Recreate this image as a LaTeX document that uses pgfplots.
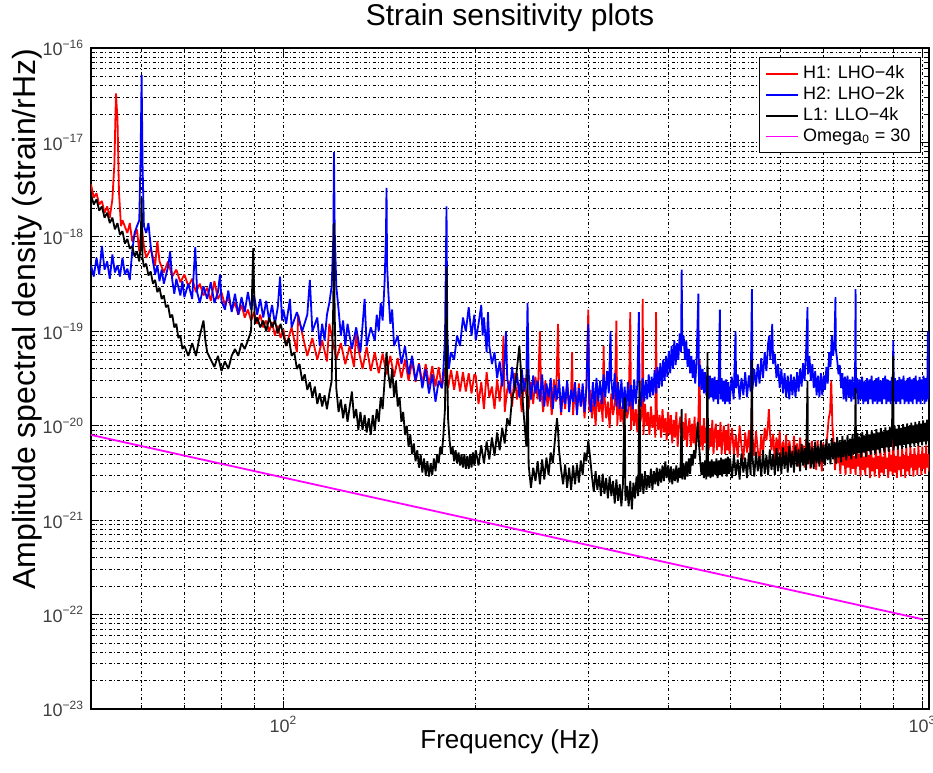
\documentclass[border=0pt]{standalone}
\usepackage{fontspec}
\setmainfont{Liberation Sans}
\usepackage{pgfplots}
\pgfplotsset{compat=1.18}

\begin{document}
\begin{tikzpicture}
\begin{axis}[
  name=main,
  scale only axis,
  width=419pt, height=330.5pt,
  xmode=log, ymode=log,
  xmin=50, xmax=1024, ymin=1e-23, ymax=1e-16,
  xtick={100,1000},
  xticklabels={10\textsuperscript{2},10\textsuperscript{3}},
  minor xtick={60,70,80,90,200,300,400,500,600,700,800,900},
  ytick={1e-23,1e-22,1e-21,1e-20,1e-19,1e-18,1e-17,1e-16},
  yticklabels={10\textsuperscript{−23},10\textsuperscript{−22},10\textsuperscript{−21},10\textsuperscript{−20},10\textsuperscript{−19},10\textsuperscript{−18},10\textsuperscript{−17},10\textsuperscript{−16}},
  minor ytick={2e-23,3e-23,4e-23,5e-23,6e-23,7e-23,8e-23,9e-23,
               2e-22,3e-22,4e-22,5e-22,6e-22,7e-22,8e-22,9e-22,
               2e-21,3e-21,4e-21,5e-21,6e-21,7e-21,8e-21,9e-21,
               2e-20,3e-20,4e-20,5e-20,6e-20,7e-20,8e-20,9e-20,
               2e-19,3e-19,4e-19,5e-19,6e-19,7e-19,8e-19,9e-19,
               2e-18,3e-18,4e-18,5e-18,6e-18,7e-18,8e-18,9e-18,
               2e-17,3e-17,4e-17,5e-17,6e-17,7e-17,8e-17,9e-17},
  grid=both,
  major grid style={black, line width=0.5pt, dash pattern=on 1.5pt off 1.2pt on 0.5pt off 1.2pt},
  minor grid style={black, line width=0.5pt, dash pattern=on 1.5pt off 1.2pt on 0.5pt off 1.2pt},
  tick align=inside,
  major tick length=4pt, minor tick length=2pt,
  tick style={black, line width=0.5pt},
  axis line style={black, line width=0.8pt},
  ticklabel style={font=\fontsize{9}{10}\selectfont, text=black!75},
  every axis title/.style={at={(axis description cs:0.5,1.0454)}, anchor=center,
    font=\fontsize{15}{18}\selectfont},
  every axis x label/.style={at={(axis description cs:0.5,-0.0499)}, anchor=center,
    font=\fontsize{13}{15}\selectfont},
  every axis y label/.style={at={(axis description cs:-0.0764,0.59)}, anchor=center, rotate=90,
    font=\fontsize{16}{18}\selectfont},
  title={Strain sensitivity plots},
  xlabel={Frequency (Hz)},
  ylabel={Amplitude spectral density (strain/rHz)},
  legend style={at={(axis description cs:0.9905,0.9864)}, anchor=north east,
    draw=black, line width=0.6pt, fill=white,
    font=\fontsize{9}{11}\selectfont, inner xsep=3pt, inner ysep=2pt,
    row sep=-1.5pt},
  legend cell align=left,
  legend image code/.code={\draw[#1] (0pt,0pt) -- (16pt,0pt);},
  every axis plot/.append style={line width=0.9pt, no markers, line join=bevel},
]

% H1: LHO-4k
\addplot[color={rgb,255:red,255;green,0;blue,0}] coordinates {
(50,3.6e-18) (50.5,2.6e-18) (51,2.9e-18) (51.5,2.2e-18) (52,2.4e-18) (52.5,1.8e-18) (53,2.1e-18) (53.5,1.6e-18)
(54,2.5e-18) (54.4,6e-18) (54.7,3.3e-17) (55,1.8e-17) (55.3,3e-18) (55.7,1.3e-18) (56,1.5e-18) (57,1.1e-18)
(57.5,1.4e-18) (58,9e-19) (59,1.2e-18) (59.5,7e-19) (60,1.3e-18) (60.5,8e-19) (61,6e-19) (62,7.5e-19)
(63,5e-19) (63.5,9e-19) (64,5.5e-19) (65,4.2e-19) (66,5.5e-19) (67,3.8e-19) (68,4.5e-19) (69,3.3e-19)
(70,4e-19) (71,3e-19) (72,3.6e-19) (73,2.6e-19) (74,3.2e-19) (75,2.4e-19) (76,2.9e-19) (77,2.1e-19)
(78,3.4e-19) (79,2.2e-19) (80,2.6e-19) (81,1.9e-19) (82,2.3e-19) (83,1.7e-19) (84,2e-19) (85,1.5e-19)
(86,1.9e-19) (87,1.4e-19) (88,1.7e-19) (89,1.3e-19) (90,1.6e-19) (91,1.2e-19) (92,1.5e-19) (93,1.1e-19)
(94,1.3e-19) (95,1e-19) (96,1.25e-19) (97,9e-20) (98,1.15e-19) (99,8.5e-20) (100,1.05e-19)
(101,7e-20) (103,1.1e-19) (105,6e-20) (105.5,1.5e-19) (107,9.5e-20) (109,5.5e-20) (111,8.5e-20) (113,5e-20)
(115,8e-20) (117,4.8e-20) (118,1.2e-19) (119,9e-20) (121,5e-20) (123,7.5e-20) (125,4.5e-20) (127,7e-20)
(129,4.2e-20) (130,1e-19) (131,6.5e-20) (133,4e-20) (135,6.8e-20) (137,3.8e-20) (139,6e-20) (141,3.6e-20)
(143,5.8e-20) (145,3.5e-20) (147,5.5e-20) (149,3.3e-20) (151,5.2e-20) (153,3.2e-20) (155,5e-20) (157,3e-20)
(159,4.8e-20) (161,2.9e-20) (163,4.6e-20) (165,2.8e-20) (167,4.5e-20) (169,2.7e-20) (171,4.3e-20) (173,2.6e-20)
(175,4.2e-20) (177,2.5e-20) (179,4e-20) (181,2.5e-20) (183,3.9e-20) (185,2.4e-20) (187,3.8e-20) (189,2.3e-20)
(191,3.7e-20) (193,2.3e-20) (195,3.6e-20) (197,2.2e-20) (199,3.5e-20)
(200,3.4e-20) (202,1.7e-20) (204,2.9e-20) (206,1.5e-20) (208,3.7e-20) (210,2.0e-20) (212,2.6e-20) (214,1.5e-20)
(216,3.1e-20) (218,1.8e-20) (220,3.5e-20) (221,9e-20) (222,1.4e-20) (224,2.4e-20) (226,3.0e-20) (228,1.6e-20)
(230,3.6e-20) (232,1.9e-20) (234,2.8e-20) (236,1.4e-20) (238,3.2e-20) (240,2.1e-20) (242,1.5e-20) (244,2.9e-20)
(246,1.7e-20) (248,3.3e-20) (250,1.9e-20) (252,10e-20) (253,2.6e-20) (255,1.4e-20) (257,3.0e-20) (259,1.6e-20)
(261,2.5e-20) (263,1.3e-20) (265,3.1e-20) (267,1.8e-20) (269,12e-20) (270,2.7e-20) (272,1.3e-20) (274,2.4e-20)
(276,1.5e-20) (278,2.9e-20) (280,1.7e-20) (282,2.2e-20) (283,6e-20) (284,1.3e-20) (286,2.6e-20) (288,1.4e-20)
(290,2.8e-20) (292,1.6e-20) (294,2.3e-20) (296,1.2e-20) (298,2.5e-20) (300,17e-20) (301,1.4e-20)
(302,2.4e-20) (304,1.2e-20) (306,2.0e-20) (308,1.0e-20) (310,2.3e-20) (312,1.4e-20) (314,1.9e-20) (316,1.1e-20)
(317,7e-20) (318,2.1e-20) (320,1.2e-20) (322,1.8e-20) (324,0.95e-20) (326,2.2e-20) (328,1.3e-20) (330,1.7e-20)
(332,13e-20) (333,1.0e-20) (335,2.0e-20) (337,1.1e-20) (339,1.6e-20) (341,0.9e-20) (343,1.9e-20) (345,1.2e-20)
(347,1.5e-20) (349,16e-20) (350,0.9e-20) (352,1.8e-20) (354,1.0e-20) (356,1.5e-20) (358,0.85e-20) (360,1.9e-20)
(362,1.1e-20) (364,1.4e-20) (365,22e-20) (366,0.8e-20) (368,1.7e-20) (370,1.0e-20) (372,1.4e-20) (374,0.8e-20)
(376,1.6e-20) (378,0.95e-20) (380,1.3e-20) (382,0.75e-20) (383,16e-20) (384,1.5e-20) (386,0.9e-20) (388,1.3e-20)
(390,0.75e-20) (392,1.5e-20) (394,0.85e-20) (396,1.2e-20) (398,0.7e-20) (400,1.4e-20)
(402,0.8e-20) (404,1.3e-20) (406,0.65e-20) (408,1.15e-20) (410,0.75e-20) (412,1.4e-20) (414,0.6e-20) (416,1.0e-20)
(418,1.25e-20) (420,0.65e-20) (422,1.1e-20) (424,0.7e-20) (426,1.35e-20) (428,0.6e-20) (430,0.95e-20) (432,1.2e-20)
(434,0.6e-20) (436,1.05e-20) (438,0.65e-20) (440,1.25e-20) (442,0.55e-20) (444,0.9e-20) (446,1.15e-20) (448,5e-20)
(449,0.6e-20) (451,1.0e-20) (453,0.55e-20) (455,1.2e-20) (457,0.65e-20) (459,0.9e-20) (461,1.1e-20) (463,0.55e-20)
(465,0.95e-20) (467,0.6e-20) (469,1.15e-20) (471,0.5e-20) (473,0.85e-20) (475,1.05e-20) (477,0.55e-20) (479,0.9e-20)
(481,0.6e-20) (483,1.1e-20) (485,0.5e-20) (487,0.8e-20) (489,1.0e-20) (491,0.5e-20) (493,0.9e-20) (495,0.55e-20)
(497,1.05e-20) (499,0.5e-20)
(503.5,9.5e-21) (507,5.0e-21) (510.5,8.0e-21) (514,4.6e-21) (517.5,10e-21) (521,6.0e-21) (524.5,4.4e-21) (528,8.5e-21)
(531.5,5.2e-21) (535,9.0e-21) (538.5,4.3e-21) (541,20e-21) (542,7.5e-21) (545.5,4.8e-21) (549,8.8e-21) (552.5,5.5e-21)
(556,4.2e-21) (559.5,8.0e-21) (563,5.0e-21) (566.5,9.5e-21) (570,7e-21) (573.5,11e-21) (575,15e-21) (577,9e-21)
(580.5,5.5e-21) (584,8.2e-21) (587.5,4.1e-21) (591,7.5e-21) (594.5,5.0e-21) (598,8.8e-21) (601.5,4.0e-21) (605,6.8e-21)
(608.5,4.5e-21) (612,8.0e-21) (615.5,3.8e-21) (619,7.0e-21) (622.5,5.2e-21) (626,3.9e-21) (629.5,7.8e-21) (633,4.4e-21)
(636.5,6.5e-21) (640,3.7e-21) (643.5,7.5e-21) (647,4.8e-21) (650.5,6.2e-21) (654,3.6e-21) (657.5,7.2e-21) (661,4.0e-21)
(664.5,6.0e-21) (668,3.5e-21) (671.5,6.9e-21) (675,4.6e-21) (678.5,5.8e-21) (682,3.4e-21) (685.5,7.0e-21) (689,4.0e-21)
(692.5,5.5e-21) (696,3.3e-21) (699.5,6.6e-21) (703,4.3e-21) (706.5,5.4e-21) (710,8e-21) (713.5,12e-21) (717,14e-21)
(720,30e-21) (723,10e-21) (726.5,6.5e-21) (730,3.4e-21) (733.5,6.0e-21) (737,4.0e-21) (740.5,5.2e-21) (744,3.1e-21)
(747.5,6.2e-21) (751,3.8e-21) (754.5,5.0e-21) (758,3.0e-21) (761.5,6.0e-21) (765,3.6e-21) (768.5,5.3e-21) (772,3.1e-21)
(775.5,5.8e-21) (779,3.5e-21) (782.5,4.8e-21) (786,3.0e-21) (789.5,6.1e-21) (793,3.7e-21) (796.5,5.0e-21) (800,2.9e-21)
(803.5,5.6e-21) (807,3.4e-21) (810.5,4.7e-21) (814,3.0e-21) (817.5,6.0e-21) (821,3.6e-21) (824.5,4.9e-21) (828,2.8e-21)
(831.5,5.5e-21) (835,3.3e-21) (838.5,4.6e-21) (842,2.9e-21) (845.5,5.9e-21) (849,3.5e-21) (852.5,4.8e-21) (856,2.8e-21)
(859.5,5.6e-21) (863,3.2e-21) (866.5,4.7e-21) (870,3.0e-21) (873.5,6.0e-21) (877,3.5e-21) (880.5,4.6e-21) (884,2.8e-21)
(887.5,5.7e-21) (891,3.3e-21) (894.5,4.9e-21) (898,3.0e-21) (900,10e-21) (901.5,5.5e-21) (905,3.2e-21) (908.5,4.8e-21)
(912,2.8e-21) (915.5,5.8e-21) (919,3.4e-21) (922.5,4.7e-21) (926,2.9e-21) (929.5,6.0e-21) (933,3.5e-21) (936.5,4.9e-21)
(940,2.8e-21) (943.5,5.9e-21) (947,3.3e-21) (950.5,4.8e-21) (954,3.0e-21) (957.5,6.1e-21) (961,3.6e-21) (964.5,5.0e-21)
(968,2.9e-21) (971.5,5.8e-21) (975,3.4e-21) (978.5,4.9e-21) (982,3.0e-21) (985.5,6.2e-21) (989,3.6e-21) (992.5,5.0e-21)
(996,3.0e-21) (999.5,6.0e-21) (1003,3.5e-21) (1006.5,5.1e-21) (1010,3.1e-21) (1013.5,6.2e-21) (1017,3.6e-21) (1020.5,5.0e-21)
(1024,3.3e-21)
};
\addlegendentry{H1: LHO−4k}

% H2: LHO-2k
\addplot[color={rgb,255:red,0;green,0;blue,255}] coordinates {
(50,5e-19) (50.5,3.8e-19) (51,6e-19) (51.5,4e-19) (52,8e-19) (52.5,4.5e-19) (53,5.5e-19) (53.5,3.6e-19)
(54,6.5e-19) (54.5,4.2e-19) (55,5e-19) (55.5,3.8e-19) (56,6e-19) (56.5,4e-19) (57,4.6e-19) (57.5,3.5e-19)
(58,7e-19) (58.5,1.1e-18) (59,1.3e-18) (59.5,1.5e-18) (59.8,8e-18) (60,5.2e-17) (60.2,6e-18) (60.5,1.3e-18)
(61,1.1e-18) (61.5,1.4e-18) (62,8e-19) (62.5,5.5e-19) (63,4e-19) (63.5,5e-19) (64,3.4e-19) (64.5,4.5e-19)
(65,3.2e-19) (66,4.8e-19) (66.5,7e-19) (67,3.5e-19) (67.5,2.5e-19) (68,3.6e-19) (69,2.4e-19) (69.5,3.4e-19)
(70,2.3e-19) (71,3.2e-19) (72,2.2e-19) (72.8,7.8e-19) (73.3,2.6e-19) (74,2e-19) (75,3e-19) (76,2.2e-19)
(77,3.3e-19) (78,2e-19) (79,2.6e-19) (79.6,4e-19) (80,2.1e-19) (81,1.7e-19) (82,2.7e-19) (83,1.6e-19)
(84,2.5e-19) (85,1.5e-19) (86,2.3e-19) (87,1.6e-19) (88,2.6e-19) (89,1.7e-19) (90,2.4e-19) (91,1.5e-19)
(92,2.2e-19) (93,1.4e-19) (94,2.1e-19) (95,1.3e-19) (96,1.9e-19) (97,1.2e-19) (98,1.8e-19) (98.8,3.8e-19)
(99.5,1.3e-19) (100,1.7e-19)
(101,1.2e-19) (102.4,2.2e-19) (103,1.1e-19) (105,1.6e-19) (107,1e-19) (109,1.5e-19) (110,3.5e-19) (111,1e-19)
(113,1.4e-19) (114,7e-20) (115,1.2e-19) (116,8e-20) (117,1.5e-19) (118,2e-19) (119,3e-19) (119.7,1e-18)
(120,7.9e-18) (120.3,1.2e-18) (121,3e-19) (122,1.7e-19) (123,9e-20) (124,1.3e-19) (125,7e-20) (126,1.2e-19)
(128,6.5e-20) (130,1.1e-19) (132,6e-20) (134,2.2e-19) (135,7e-20) (137,1.1e-19) (139,8e-20) (140,1.5e-19)
(141,1e-19) (142,2e-19) (143,1.3e-19) (144,3.3e-19) (144.7,1e-18) (145,3.3e-18) (145.3,5e-19) (146,2.5e-19)
(147,1.2e-19) (148,1.7e-19) (149,7e-20) (151,9e-20) (153,4.5e-20) (155,7e-20) (157,3.5e-20) (159,5.5e-20)
(161,3e-20) (163,4.5e-20) (165,2.5e-20) (167,4e-20) (169,2.2e-20) (171,3.5e-20) (173,1.8e-20) (175,3e-20)
(177,2.5e-20) (178,4e-20) (179,8e-20) (180,2.1e-18) (180.5,1e-19) (181.5,4e-20) (183,6e-20) (185,5e-20)
(187,9e-20) (189,7e-20) (191,1.4e-19) (193,1e-19) (195,1.8e-19) (197,9e-20) (199,1.5e-19)
(200,8e-20) (202,12e-20) (204,19e-20) (205,9e-20) (206,14e-20) (208,6e-20) (209,16e-20) (210,7e-20)
(212,4.5e-20) (214,6e-20) (216,3.2e-20) (218,4.8e-20) (220,2.6e-20) (222,5e-20) (223,10e-20) (224,3.2e-20)
(226,2.2e-20) (228,4.2e-20) (230,2.4e-20) (232,3.6e-20) (234,2.0e-20) (236,4.0e-20) (238,2.3e-20) (240,3.3e-20)
(241,20e-20) (242,3.6e-20) (244,1.9e-20) (246,3.4e-20) (248,2.2e-20) (250,3.0e-20) (252,1.8e-20) (254,3.5e-20)
(256,1.6e-20) (258,2.8e-20) (260,2.0e-20) (262,3.2e-20) (264,1.5e-20) (266,2.7e-20) (268,1.9e-20) (270,3.1e-20)
(272,1.4e-20) (274,2.6e-20) (276,1.7e-20) (278,3.0e-20) (280,1.4e-20) (282,2.4e-20) (284,1.8e-20) (286,2.9e-20)
(288,1.3e-20) (290,2.5e-20) (292,1.6e-20) (294,2.8e-20) (296,1.4e-20) (298,2.6e-20) (300,12e-20) (301,2.0e-20)
(303,1.4e-20) (305,2.9e-20) (307,1.6e-20) (309,3.2e-20) (311,1.8e-20) (313,3.0e-20) (315,1.7e-20) (317,3.5e-20)
(319,2.0e-20) (321,3.8e-20) (323,2.2e-20) (325,10e-20) (326,3.0e-20) (328,1.9e-20) (330,3.6e-20) (332,1.6e-20)
(334,2.9e-20) (336,1.5e-20) (338,3.1e-20) (340,1.5e-20) (342,2.6e-20) (344,1.4e-20) (346,2.9e-20) (348,1.6e-20)
(350,2.7e-20) (352,1.5e-20) (354,3.1e-20) (356,1.7e-20) (358,2.8e-20) (360,16e-20) (361,2.0e-20) (363,1.6e-20)
(365,3.2e-20) (367,1.8e-20) (369,3.0e-20) (371,1.9e-20) (373,3.5e-20) (375,2.0e-20) (377,3.3e-20) (379,2.1e-20)
(381,3.9e-20) (383,2.2e-20) (385,4.2e-20) (387,2.5e-20) (389,4.6e-20) (391,2.6e-20) (393,5.0e-20) (395,3.0e-20)
(397,5.5e-20) (399,3.3e-20) (401,6.2e-20) (403,3.6e-20) (405,7.0e-20) (407,4.0e-20) (409,8.0e-20) (411,4.4e-20)
(413,7.5e-20) (415,5.0e-20) (417,9.5e-20) (419,6e-20) (420,45e-20) (421,7e-20) (423,9e-20) (425,5e-20)
(427,8e-20) (429,4.2e-20) (431,6.5e-20) (433,3.6e-20) (435,5.5e-20) (437,3.2e-20) (439,5.0e-20) (441,2.8e-20)
(443,4.6e-20) (446,25e-20) (447,2.6e-20) (449,4.4e-20) (451,2.4e-20) (453,4.0e-20) (455,2.2e-20) (457,3.7e-20)
(459,2.1e-20) (461,3.5e-20) (463,1.9e-20) (465,3.4e-20) (467,2.0e-20) (469,3.2e-20) (471,1.8e-20) (473,3.3e-20)
(475,1.9e-20) (477,3.0e-20) (479,1.7e-20) (482,17e-20) (483,1.9e-20) (485,3.2e-20) (487,1.8e-20) (489,3.0e-20)
(491,1.7e-20) (493,3.1e-20) (495,1.8e-20) (497,2.9e-20) (499,1.7e-20)
(503,3.3e-20) (506.5,1.9e-20) (510,10e-20) (511,2.5e-20) (514,3.5e-20) (517.5,1.9e-20) (521,3.2e-20) (524.5,2.1e-20)
(528,3.7e-20) (531.5,2.0e-20) (535,3.4e-20) (538.5,2.3e-20) (541,28e-20) (542,2.4e-20) (545.5,4.0e-20) (549,2.6e-20)
(552.5,4.5e-20) (556,2.8e-20) (559.5,5.2e-20) (563,3.2e-20) (566.5,6.0e-20) (570,3.8e-20) (573.5,7.5e-20) (576,9e-20)
(578,5e-20) (580.5,7e-20) (582,12e-20) (584,4.5e-20) (587.5,5.8e-20) (591,3.2e-20) (594.5,4.5e-20) (598,2.5e-20)
(601.5,4.0e-20) (605,2.2e-20) (608.5,3.6e-20) (612,2.0e-20) (615.5,3.4e-20) (619,1.9e-20) (622.5,3.5e-20) (626,2.1e-20)
(629.5,3.3e-20) (633,2.0e-20) (636.5,3.7e-20) (640,2.3e-20) (643.5,4.0e-20) (647,2.6e-20) (650.5,4.6e-20) (654,3.0e-20)
(657.5,6e-20) (661,18e-20) (662,3.5e-20) (665.5,5.5e-20) (669,3.0e-20) (672.5,4.5e-20) (676,2.5e-20) (679.5,3.8e-20)
(683,2.1e-20) (686.5,3.4e-20) (690,2.0e-20) (693.5,3.6e-20) (697,2.1e-20) (700.5,3.4e-20) (704,2.4e-20) (707.5,4.2e-20)
(711,2.8e-20) (714.5,6.0e-20) (718,4.2e-20) (721.5,9e-20) (725,5.5e-20) (728.5,8e-20) (731,23e-20) (732,6.5e-20)
(735.5,5.0e-20) (739,3.5e-20) (742.5,4.4e-20) (746,2.5e-20) (749.5,3.6e-20) (753,1.9e-20) (756.5,3.3e-20) (760,1.8e-20)
(763.5,3.4e-20) (767,2.0e-20) (770.5,3.1e-20) (774,1.8e-20) (777.5,3.3e-20) (781,1.9e-20) (784.5,3.0e-20) (786,28e-20)
(787,2.2e-20) (790.5,3.2e-20) (794,1.7e-20) (797.5,3.1e-20) (801,1.9e-20) (804.5,3.3e-20) (808,1.7e-20) (811.5,3.0e-20)
(815,1.8e-20) (818.5,3.2e-20) (822,1.7e-20) (825.5,3.1e-20) (829,1.9e-20) (832.5,3.4e-20) (836,1.7e-20) (839.5,3.0e-20)
(843,1.8e-20) (846.5,3.2e-20) (850,1.7e-20) (853.5,3.3e-20) (857,1.8e-20) (860.5,3.0e-20) (864,1.7e-20) (867.5,3.2e-20)
(871,1.9e-20) (874.5,3.4e-20) (878,1.7e-20) (881.5,3.1e-20) (885,1.8e-20) (888.5,3.0e-20) (892,1.7e-20) (895.5,3.3e-20)
(899,2.0e-20) (900,8e-20) (902.5,1.8e-20) (906,3.2e-20) (909.5,1.7e-20) (913,3.0e-20) (916.5,1.8e-20) (920,3.3e-20)
(923.5,1.7e-20) (927,3.1e-20) (930.5,1.9e-20) (934,3.4e-20) (937.5,1.7e-20) (941,3.0e-20) (944.5,1.8e-20) (948,3.2e-20)
(951.5,1.7e-20) (955,3.3e-20) (958.5,1.8e-20) (962,3.1e-20) (965.5,1.7e-20) (969,3.2e-20) (972.5,1.9e-20) (976,3.4e-20)
(979.5,1.7e-20) (983,3.0e-20) (986.5,1.8e-20) (990,3.3e-20) (993.5,1.7e-20) (997,3.1e-20) (1000.5,1.9e-20) (1004,3.4e-20)
(1007.5,1.7e-20) (1011,3.2e-20) (1014.5,1.8e-20) (1018,3.3e-20) (1020,10e-20) (1021.5,1.9e-20) (1024,3.1e-20)
};
\addlegendentry{H2: LHO−2k}

% L1: LLO-4k
\addplot[color=black] coordinates {
(50,2.8e-18) (50.5,2.2e-18) (51,2.5e-18) (51.5,1.9e-18) (52,2.1e-18) (52.5,1.6e-18) (53,1.8e-18) (53.5,1.4e-18)
(54,1.6e-18) (54.5,1.2e-18) (55,1.4e-18) (55.5,1.05e-18) (56,1.15e-18) (56.5,8.5e-19) (57,9.5e-19) (57.5,7.5e-19)
(58,8e-19) (58.5,6.2e-19) (59,7e-19) (59.5,5.5e-19) (59.8,8e-19) (60,2.6e-18) (60.2,6e-19) (60.5,4.8e-19)
(61,5.2e-19) (61.5,3.9e-19) (62,4.3e-19) (62.5,3.2e-19) (63,3.5e-19) (63.5,2.6e-19) (64,2.9e-19) (64.5,2.2e-19)
(65,2.4e-19) (65.5,1.8e-19) (66,1.9e-19) (66.5,1.4e-19) (67,1.5e-19) (67.5,1.1e-19) (68,1.2e-19) (68.5,8.5e-20)
(69,9e-20) (69.5,6.5e-20) (70,7e-20) (71,5.5e-20) (72,7.5e-20) (73,5.5e-20) (74,9e-20) (75,1.3e-19)
(75.5,8e-20) (76,6e-20) (77,5e-20) (78,4.2e-20) (79,5.5e-20) (80,3.8e-20) (81,4.8e-20) (82,4e-20)
(83,5.5e-20) (84,6.5e-20) (85,5.5e-20) (86,7.5e-20) (87,6.5e-20) (88,8e-20) (89,1e-19) (89.7,7.6e-19)
(90.2,1.2e-19) (91,1.4e-19) (92,1.1e-19) (93,1.3e-19) (94,1e-19) (95,1.4e-19) (96,1.1e-19) (97,1.3e-19)
(98,9.5e-20) (99,1.2e-19) (100,9e-20)
(101,7e-20) (102,8.5e-20) (103,5.5e-20) (104,6e-20) (105,4e-20) (106,4.5e-20) (107,3e-20) (108,3.5e-20)
(109,2.4e-20) (110,2.9e-20) (111,2e-20) (112,2.6e-20) (113,1.7e-20) (114,2.2e-20) (115,1.6e-20) (116,2.1e-20)
(117,1.5e-20) (118,2.2e-20) (119,3e-20) (119.7,2e-19) (120,1.4e-18) (120.3,1.5e-19) (121,2.5e-20) (122,1.4e-20)
(123,1.9e-20) (124,1.2e-20) (125,1.7e-20) (126,1.1e-20) (127,1.6e-20) (128,2.3e-20) (129,1.2e-20) (130,1.5e-20)
(131,9e-21) (132,1.4e-20) (133,9e-21) (134,1.3e-20) (135,8.5e-21) (136,1.2e-20) (137,8e-21) (138,1.3e-20)
(139,9e-21) (140,1.5e-20) (141,1.1e-20) (142,2e-20) (143,1.5e-20) (144,3e-20) (145,6e-20) (146,3.5e-20)
(147,2.5e-20) (148,4e-20) (149,2e-20) (150,3e-20) (151,1.6e-20) (152,2e-20) (153,1.1e-20) (154,1.4e-20)
(155,8e-21) (156,1e-20) (157,6e-21) (158,8e-21) (159,5e-21) (160,6.5e-21) (161,4.2e-21) (162,5.5e-21)
(163,3.6e-21) (164,5e-21) (165,3.2e-21) (166,4.5e-21) (167,3e-21) (168,4.2e-21) (169,2.9e-21) (170,4e-21)
(171,3e-21) (172,4.5e-21) (173,3.3e-21) (174,5e-21) (175,4e-21) (176,6e-21) (177,5e-21) (178,8e-21)
(179,1.5e-20) (179.6,6e-20) (180,4.8e-19) (180.4,5e-20) (181,1.2e-20) (182,7e-21) (183,5e-21) (184,6e-21)
(185,4.2e-21) (186,5.5e-21) (187,4e-21) (188,5.2e-21) (189,3.8e-21) (190,5e-21) (191,3.6e-21) (192,5e-21)
(193,3.5e-21) (194,4.8e-21) (195,3.5e-21) (196,5e-21) (197,3.6e-21) (198,5.2e-21) (199,3.8e-21)
(200,5.5e-21) (202,3.8e-21) (204,6.2e-21) (206,4.0e-21) (208,6.8e-21) (210,4.4e-21) (212,7.5e-21) (214,4.8e-21)
(216,8.5e-21) (218,5.5e-21) (220,9.5e-21) (222,6.5e-21) (224,12e-21) (226,10e-21) (228,20e-21) (230,24e-21)
(232,40e-21) (234,70e-21) (235,45e-21) (236,25e-21) (238,12e-21) (240,6e-21) (241,40e-21) (242,3.8e-21)
(244,2.2e-21) (246,3.6e-21) (248,2.6e-21) (250,4.2e-21) (252,2.4e-21) (254,4.4e-21) (256,2.7e-21) (258,4.6e-21)
(260,3.0e-21) (262,5.2e-21) (264,4.0e-21) (266,7e-21) (268,12e-21) (269,9e-21) (270,5.5e-21) (272,3.4e-21)
(274,2.4e-21) (276,3.9e-21) (278,2.2e-21) (280,3.6e-21) (282,2.1e-21) (284,3.8e-21) (286,2.4e-21) (288,3.9e-21)
(290,2.5e-21) (292,4.3e-21) (294,3.0e-21) (296,5.2e-21) (298,4.2e-21) (300,7e-21) (302,4.6e-21) (304,2.9e-21)
(306,2.0e-21) (308,3.3e-21) (310,2.1e-21) (312,3.0e-21) (314,1.8e-21) (316,3.1e-21) (318,1.9e-21) (320,2.8e-21)
(322,1.7e-21) (324,2.9e-21) (326,1.8e-21) (328,2.6e-21) (330,1.5e-21) (332,2.7e-21) (334,1.6e-21) (336,2.4e-21)
(338,1.4e-21) (340,2.5e-21) (342,20e-21) (343,1.6e-21) (345,2.3e-21) (347,1.4e-21) (349,2.6e-21) (351,1.3e-21)
(353,2.5e-21) (355,1.7e-21) (357,2.9e-21) (359,1.8e-21) (361,30e-21) (362,2.0e-21) (364,3.1e-21) (366,1.9e-21)
(368,3.3e-21) (370,2.1e-21) (372,3.0e-21) (374,2.2e-21) (376,3.5e-21) (378,2.1e-21) (380,3.3e-21) (382,2.4e-21)
(384,3.6e-21) (386,2.3e-21) (388,3.5e-21) (390,2.5e-21) (392,3.8e-21) (394,2.6e-21) (396,4.2e-21) (398,2.8e-21)
(400,3.8e-21) (402,2.5e-21) (404,3.7e-21) (406,2.4e-21) (408,3.5e-21) (410,2.6e-21) (412,3.8e-21) (414,2.5e-21)
(416,3.6e-21) (418,2.8e-21) (420,15e-21) (421,2.7e-21) (423,4.0e-21) (425,2.7e-21) (427,4.2e-21) (429,2.9e-21)
(431,4.5e-21) (433,3.1e-21) (435,5.0e-21) (437,3.8e-21) (439,5.5e-21) (441,4.5e-21) (443,7e-21) (445,11e-21)
(446,9e-21) (447,6.5e-21) (449,4.2e-21) (451,3.0e-21) (453,4.1e-21) (455,2.8e-21) (457,4.3e-21) (459,2.7e-21)
(461,60e-21) (462,2.9e-21) (464,4.2e-21) (466,2.8e-21) (468,4.4e-21) (470,2.9e-21) (472,4.2e-21) (474,3.0e-21)
(476,4.5e-21) (478,2.8e-21) (480,4.3e-21) (482,3.0e-21) (484,4.6e-21) (486,2.9e-21) (488,4.4e-21) (490,3.1e-21)
(492,4.5e-21) (494,2.9e-21) (496,4.7e-21) (498,3.1e-21) (500,4.5e-21)
(503.5,2.8e-21) (507,4.9e-21) (510.5,3.0e-21) (514,4.4e-21) (517.5,2.7e-21) (521,5.1e-21) (524.5,3.2e-21) (528,4.6e-21)
(531.5,2.8e-21) (535,5.2e-21) (538.5,3.0e-21) (541,50e-21) (542,4.7e-21) (545.5,2.9e-21) (549,5.3e-21) (552.5,3.3e-21)
(556,4.8e-21) (559.5,2.9e-21) (563,5.5e-21) (566.5,3.1e-21) (570,4.9e-21) (573.5,3.0e-21) (577,5.6e-21) (580.5,3.4e-21)
(584,5.0e-21) (587.5,3.0e-21) (591,5.8e-21) (594.5,3.3e-21) (598,5.2e-21) (601.5,3.1e-21) (605,5.9e-21) (608.5,3.5e-21)
(612,5.3e-21) (615.5,3.2e-21) (619,6.1e-21) (622.5,3.6e-21) (626,5.4e-21) (629.5,3.2e-21) (633,6.2e-21) (636.5,3.7e-21)
(640,5.6e-21) (643.5,3.3e-21) (647,6.4e-21) (650.5,3.8e-21) (654,5.8e-21) (657.5,3.4e-21) (661,30e-21) (662,3.9e-21)
(665.5,6.6e-21) (669,3.6e-21) (672.5,5.9e-21) (676,3.5e-21) (679.5,6.8e-21) (683,4.0e-21) (686.5,6.1e-21) (690,3.7e-21)
(693.5,7.0e-21) (697,4.1e-21) (700.5,6.3e-21) (704,3.8e-21) (707.5,7.2e-21) (711,4.3e-21) (714.5,6.5e-21) (718,3.9e-21)
(721.5,7.4e-21) (725,4.4e-21) (728.5,6.7e-21) (732,4.0e-21) (735.5,7.6e-21) (739,4.6e-21) (742.5,6.9e-21) (746,4.1e-21)
(749.5,7.8e-21) (753,4.7e-21) (756.5,7.1e-21) (760,4.3e-21) (763.5,8.0e-21) (767,4.8e-21) (770.5,7.3e-21) (774,4.4e-21)
(777.5,8.2e-21) (781,5.0e-21) (784.5,7.5e-21) (786,25e-21) (787.5,4.5e-21) (791,8.4e-21) (794.5,5.1e-21) (798,7.7e-21)
(801.5,4.6e-21) (805,8.6e-21) (808.5,5.2e-21) (812,7.9e-21) (815.5,4.7e-21) (819,8.8e-21) (822.5,5.4e-21) (826,8.1e-21)
(829.5,4.9e-21) (833,9.0e-21) (836.5,5.5e-21) (840,8.3e-21) (843.5,5.0e-21) (847,9.2e-21) (850.5,5.6e-21) (854,8.5e-21)
(857.5,5.1e-21) (861,9.4e-21) (864.5,5.8e-21) (868,8.7e-21) (871.5,5.2e-21) (875,9.6e-21) (878.5,5.9e-21) (882,8.9e-21)
(885.5,5.3e-21) (889,9.8e-21) (892.5,6.0e-21) (896,9.1e-21) (900,55e-21) (901,5.5e-21) (904.5,10e-21) (908,6.1e-21)
(911.5,9.3e-21) (915,5.6e-21) (918.5,10.2e-21) (922,6.2e-21) (925.5,9.5e-21) (929,5.7e-21) (932.5,10.4e-21) (936,6.3e-21)
(939.5,9.7e-21) (943,5.8e-21) (946.5,10.6e-21) (950,6.4e-21) (953.5,9.9e-21) (957,5.9e-21) (960.5,10.8e-21) (964,6.5e-21)
(967.5,10.1e-21) (971,6.0e-21) (974.5,11e-21) (978,6.6e-21) (981.5,10.3e-21) (985,6.1e-21) (988.5,11.2e-21) (992,6.7e-21)
(995.5,10.5e-21) (999,6.2e-21) (1002.5,11.4e-21) (1006,6.8e-21) (1009.5,10.7e-21) (1013,6.3e-21) (1016.5,11.6e-21) (1020,6.9e-21)
(1024,10.9e-21)
};
\addlegendentry{L1: LLO−4k}

% Omega_0 = 30 background level
\addplot[color={rgb,255:red,255;green,0;blue,255}] coordinates {
(50,8.0e-21) (1000,8.94e-23)
};
\addlegendentry{Omega\textsubscript{0} = 30}
\end{axis}
\pgfresetboundingbox
\useasboundingbox ([xshift=-45.5pt,yshift=-31.5pt]main.south west) rectangle ([xshift=2pt,yshift=24pt]main.north east);
\end{tikzpicture}
\end{document}
